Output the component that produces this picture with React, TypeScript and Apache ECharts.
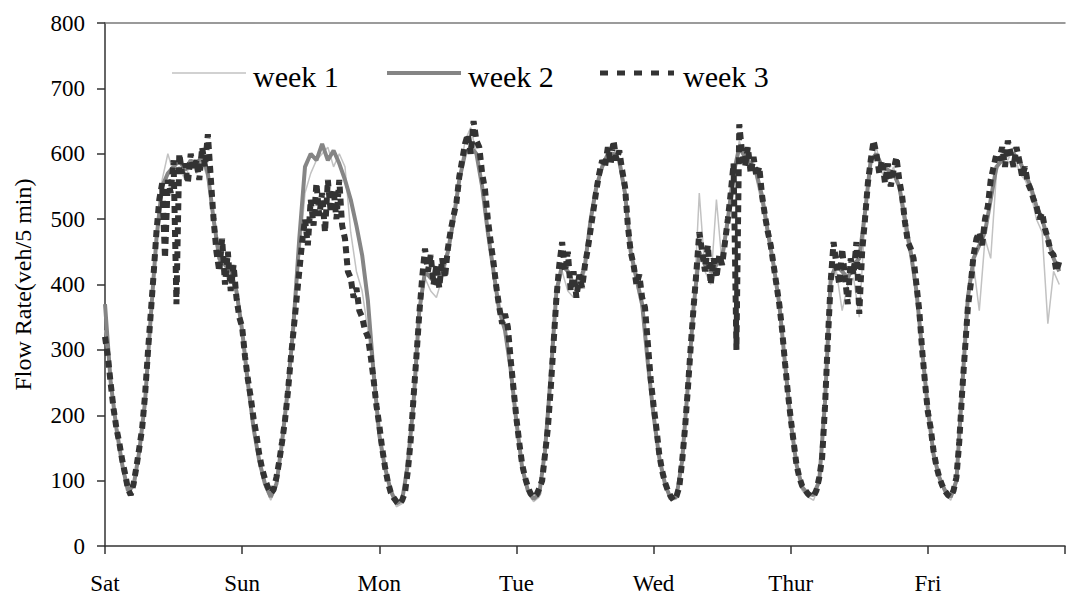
import React, { useEffect, useRef } from "react";
import * as echarts from "echarts";

// Day names at each 24-hour boundary (Saturday 00:00 = hour 0)
const dayLabels = ["Sat", "Sun", "Mon", "Tue", "Wed", "Thur", "Fri"];
const seriesNames = ["week 1", "week 2", "week 3"];

// week 1 & week 2: hourly samples (hour 0 .. 167)
const week1StepHours = 1;
const week1 = [
  // Sat
  330, 240, 175, 120, 80, 90, 140, 215, 340, 460, 560, 600, 570, 580, 560, 590, 570, 590, 560, 490, 430, 420, 430, 380,
  // Sun
  320, 240, 175, 125, 90, 70, 90, 150, 230, 330, 440, 540, 570, 590, 600, 610, 580, 600, 580, 480, 420, 390, 330, 255,
  // Mon
  165, 115, 80, 60, 65, 120, 215, 350, 410, 390, 380, 410, 440, 490, 560, 620, 640, 600, 540, 470, 410, 360, 330, 260,
  // Tue
  185, 115, 80, 68, 75, 140, 250, 380, 420, 390, 380, 390, 420, 490, 540, 580, 600, 610, 580, 530, 440, 400, 360, 270,
  // Wed
  195, 130, 90, 70, 72, 125, 240, 360, 540, 420, 400, 530, 430, 490, 560, 620, 590, 600, 560, 520, 470, 440, 360, 270,
  // Thu
  185, 120, 85, 75, 70, 95, 215, 400, 420, 360, 400, 410, 350, 500, 580, 610, 570, 560, 580, 540, 480, 440, 380, 290,
  // Fri
  200, 135, 100, 80, 70, 95, 230, 370, 430, 360, 470, 440, 570, 600, 590, 610, 570, 560, 540, 500, 480, 340, 420, 400,
];

const week2StepHours = 1;
const week2 = [
  // Sat
  370, 250, 180, 125, 85, 92, 145, 220, 350, 470, 550, 570, 580, 590, 575, 590, 580, 600, 570, 500, 440, 430, 420, 390,
  // Sun
  330, 250, 180, 130, 95, 75, 95, 160, 240, 340, 470, 580, 600, 590, 615, 590, 605, 585, 560, 530, 490, 445, 376, 265,
  // Mon
  170, 120, 85, 65, 70, 125, 220, 360, 420, 410, 400, 420, 450, 500, 560, 600, 610, 600, 550, 480, 420, 360, 330, 270,
  // Tue
  190, 120, 85, 72, 80, 145, 260, 390, 430, 420, 400, 400, 430, 500, 550, 580, 600, 600, 590, 540, 450, 410, 370, 280,
  // Wed
  200, 135, 95, 72, 75, 130, 245, 365, 450, 430, 420, 430, 440, 500, 570, 610, 595, 585, 570, 535, 480, 430, 370, 280,
  // Thu
  190, 125, 90, 80, 78, 100, 220, 410, 430, 420, 410, 430, 440, 510, 590, 600, 580, 575, 570, 550, 500, 450, 390, 300,
  // Fri
  210, 140, 105, 85, 75, 100, 240, 380, 440, 460, 480, 530, 580, 590, 600, 600, 590, 570, 550, 520, 500, 470, 440, 420,
];

// week 3: half-hourly samples (hour 0 .. 167)
const week3StepHours = 0.5;
const week3 = [
  // Sat
  320, 290, 248, 210, 180, 158, 132, 111, 88, 78, 95, 121, 150, 180, 230, 295, 355, 415, 480, 530, 555, 440, 560, 540,
  590, 370, 600, 570, 585, 555, 600, 575, 590, 560, 610, 580, 630, 565, 500, 450, 420, 470, 400, 450, 390, 430, 380, 350,
  // Sun
  335, 290, 255, 228, 195, 170, 140, 118, 102, 90, 81, 86, 105, 130, 160, 192, 235, 285, 330, 375, 420, 465, 500, 460,
  530, 490, 555, 505, 540, 480, 560, 510, 545, 500, 560, 490, 470, 420, 410, 380, 395, 360, 350, 330, 320, 290, 255, 215,
  // Mon
  185, 150, 121, 98, 82, 74, 68, 64, 70, 82, 115, 162, 228, 290, 355, 410, 455, 420, 445, 400, 430, 395, 440, 410,
  455, 483, 505, 525, 565, 590, 615, 630, 600, 650, 620, 610, 570, 545, 500, 465, 433, 395, 365, 340, 355, 335, 285, 240,
  // Tue
  195, 158, 125, 105, 90, 80, 75, 78, 88, 100, 140, 180, 240, 310, 380, 430, 465, 420, 450, 390, 420, 380, 415, 395,
  430, 455, 485, 515, 545, 570, 590, 580, 610, 585, 620, 590, 605, 575, 550, 490, 450, 430, 400, 415, 380, 365, 310, 255,
  // Wed
  215, 180, 140, 115, 97, 85, 76, 70, 76, 90, 130, 180, 240, 305, 365, 420, 480, 450, 420, 460, 400, 440, 410, 445,
  430, 465, 500, 540, 585, 300, 645, 600, 580, 610, 570, 595, 565, 580, 535, 505, 480, 460, 430, 400, 370, 330, 280, 235,
  // Thu
  195, 160, 125, 105, 92, 86, 80, 76, 76, 85, 105, 135, 213, 315, 405, 465, 430, 400, 455, 410, 370, 440, 415, 465,
  355, 450, 500, 555, 590, 620, 600, 570, 590, 555, 585, 550, 575, 595, 560, 535, 495, 465, 455, 440, 400, 360, 300, 250,
  // Fri
  205, 180, 145, 122, 105, 93, 84, 78, 75, 85, 105, 160, 235, 300, 365, 400, 445, 470, 480, 460, 500, 520, 560, 580,
  600, 590, 610, 580, 620, 600, 580, 610, 590, 565, 580, 555, 545, 530, 520, 500, 510, 485, 470, 450, 445, 420, 435,
];

const toPairs = (vals: number[], step: number) => vals.map((v, i) => [i * step, v]);

const colors = ["#c2c2c2", "#858585", "#333333"];
const widths = [1.5, 4, 6];
const dashes: (number[] | null)[] = [null, null, [7, 5]];

export default function App() {
  const ref = useRef<HTMLDivElement>(null);

  useEffect(() => {
    if (!ref.current) return;
    const chart = echarts.init(ref.current, null, { renderer: "svg" });
    const font = "'Liberation Serif', 'Times New Roman', Times, serif";
    const axisColor = "#333333";

    // legend drawn as graphic (line sample + label), inside the plot area
    const legendX = [172, 387, 600];
    const legendY = 73;
    const legendGraphic: any[] = [];
    seriesNames.forEach((name, i) => {
      legendGraphic.push({
        type: "line",
        silent: true,
        shape: { x1: legendX[i], y1: legendY, x2: legendX[i] + 74, y2: legendY },
        style: {
          stroke: colors[i],
          lineWidth: i === 2 ? 5 : widths[i],
          lineDash: i === 2 ? [8, 9] : null,
          lineCap: "butt",
        },
      });
      legendGraphic.push({
        type: "text",
        silent: true,
        x: legendX[i] + (i === 2 ? 83 : 81),
        y: legendY + 3,
        style: {
          text: name,
          fontFamily: font,
          fontSize: 30,
          fill: "#000000",
          verticalAlign: "middle",
          align: "left",
        },
      });
    });

    chart.setOption({
      animation: false,
      backgroundColor: "#ffffff",
      textStyle: { fontFamily: font },
      grid: { left: 105, right: -4, top: 23, bottom: 49, containLabel: false },
      graphic: legendGraphic,
      xAxis: [
        {
          type: "value",
          min: 0,
          max: 168,
          interval: 24,
          axisLine: { show: true, lineStyle: { color: axisColor, width: 1.5 } },
          axisTick: { show: true, inside: false, length: 8, lineStyle: { color: axisColor, width: 1.5 } },
          axisLabel: {
            fontFamily: font,
            fontSize: 23,
            color: "#000000",
            margin: 26,
            formatter: (v: number) => {
              const d = v / 24;
              return Number.isInteger(d) && dayLabels[d] ? dayLabels[d] : "";
            },
          },
          splitLine: { show: false },
        },
        {
          type: "value",
          position: "top",
          min: 0,
          max: 168,
          axisLine: { show: true, lineStyle: { color: "#7a7a7a", width: 1.5 } },
          axisTick: { show: false },
          axisLabel: { show: false },
          splitLine: { show: false },
        },
      ],
      yAxis: {
        type: "value",
        min: 0,
        max: 800,
        interval: 100,
        name: "Flow Rate(veh/5 min)",
        nameLocation: "middle",
        nameGap: 70,
        nameRotate: 90,
        nameTextStyle: { fontFamily: font, fontSize: 24, color: "#000000" },
        axisLine: { show: true, lineStyle: { color: axisColor, width: 1.5 } },
        axisTick: { show: true, inside: false, length: 8, lineStyle: { color: axisColor, width: 1.5 } },
        axisLabel: { fontFamily: font, fontSize: 23, color: "#000000", margin: 20 },
        splitLine: { show: false },
      },
      series: [week1, week2, week3].map((vals, i) => ({
        name: seriesNames[i],
        type: "line",
        xAxisIndex: 0,
        data: toPairs(vals, [week1StepHours, week2StepHours, week3StepHours][i]),
        symbol: "none",
        showSymbol: false,
        silent: true,
        lineStyle: {
          color: colors[i],
          width: widths[i],
          type: dashes[i] ? dashes[i] : "solid",
          cap: "butt",
        },
        itemStyle: { color: colors[i] },
      })),
    });

    return () => chart.dispose();
  }, []);

  return (
    <div
      ref={ref}
      style={{ position: "fixed", left: 0, top: 0, width: 1068, height: 595, background: "#ffffff" }}
    />
  );
}
